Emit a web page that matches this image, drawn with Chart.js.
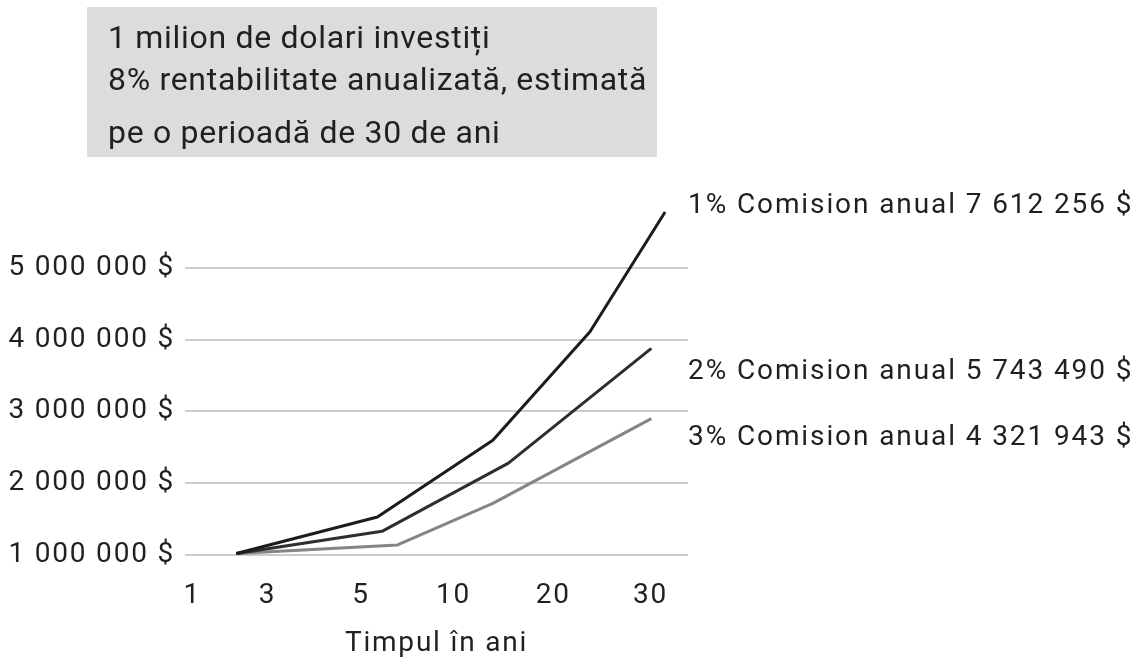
<!DOCTYPE html>
<html lang="ro">
<head>
<meta charset="UTF-8">
<title>Comision anual</title>
<script src="https://cdn.jsdelivr.net/npm/chart.js"></script>
<style>
  html, body { margin: 0; padding: 0; background: #fff; }
  #wrap { width: 1137px; height: 663px; }
</style>
</head>
<body>
<div id="wrap"><canvas id="chart" width="1137" height="663"></canvas></div>
<script>
// axa x e in "sloturi": eticheta 1 -> 0, eticheta 30 -> 5 (distantele nu sunt egale in original)
const xTickLabels = ['1', '3', '5', '10', '20', '30'];
const xTickPos = [0, 0.82, 1.84, 2.85, 3.94, 5.0];
const yTicks = [1000000, 2000000, 3000000, 4000000, 5000000];

const seriesNames = [
    '1% Comision anual 7 612 256 $',
    '2% Comision anual 5 743 490 $',
    '3% Comision anual 4 321 943 $'
];
const x1 = [0.48, 2.02, 3.28, 4.34, 5.16];
const y1 = [1020000, 1530000, 2600000, 4110000, 5780000];
const x2 = [0.48, 2.07, 3.45, 5.01];
const y2 = [1020000, 1330000, 2280000, 3880000];
const x3 = [0.48, 2.24, 3.28, 5.01];
const y3 = [1020000, 1140000, 1720000, 2900000];

const titleLines = [
    '1 milion de dolari investiți',
    '8% rentabilitate anualizată, estimată',
    'pe o perioadă de 30 de ani'
];

const textColor = '#231f20';
const lineColors = ['#1c1c1c', '#2e2e2e', '#858585'];

function toPoints(xs, ys) {
    return xs.map((x, i) => ({ x: x, y: ys[i] }));
}

function formatMoney(v) {
    return String(v).replace(/\B(?=(\d{3})+(?!\d))/g, ' ') + ' $';
}

// caseta gri de sus si etichetele din dreapta
const decor = {
    id: 'decor',
    beforeDraw(chart) {
        const ctx = chart.ctx;
        ctx.save();
        ctx.fillStyle = '#dcdcdc';
        ctx.fillRect(87, 7, 570, 150);
        ctx.fillStyle = textColor;
        ctx.font = '32px Roboto';
        ctx.letterSpacing = '0.7px';
        ctx.textBaseline = 'alphabetic';
        const baselines = [48, 90, 143];
        titleLines.forEach((t, i) => ctx.fillText(t, 108, baselines[i]));
        ctx.restore();
        ctx.letterSpacing = '1.8px';
    },
    afterDraw(chart) {
        const ctx = chart.ctx;
        ctx.save();
        ctx.font = '28px Roboto';
        ctx.letterSpacing = '1.9px';
        ctx.fillStyle = textColor;
        ctx.textBaseline = 'alphabetic';
        const baselines = [213, 379, 445];
        chart.data.datasets.forEach((ds, i) => ctx.fillText(ds.label, 688, baselines[i]));
        ctx.restore();
    }
};

const datasets = [toPoints(x1, y1), toPoints(x2, y2), toPoints(x3, y3)].map((pts, i) => ({
    label: seriesNames[i],
    data: pts,
    borderColor: lineColors[i],
    borderWidth: 3,
    pointRadius: 0,
    tension: 0,
    borderJoinStyle: 'round',
    fill: false
}));

new Chart(document.getElementById('chart'), {
    type: 'line',
    data: { datasets: datasets },
    options: {
        responsive: false,
        animation: false,
        devicePixelRatio: 1,
        layout: { padding: { top: 189, right: 449, left: 0, bottom: 0 } },
        plugins: {
            legend: { display: false },
            tooltip: { enabled: false }
        },
        scales: {
            x: {
                type: 'linear',
                min: -0.08,
                max: 5.41,
                grid: { display: false, drawTicks: false },
                border: { display: false },
                afterBuildTicks: (scale) => {
                    scale.ticks = xTickPos.map(v => ({ value: v }));
                },
                afterFit: (scale) => { scale.height = 108; },
                ticks: {
                    autoSkip: false,
                    maxRotation: 0,
                    padding: 24,
                    color: textColor,
                    font: { family: 'Roboto', size: 28 },
                    callback: (v, i) => xTickLabels[i]
                },
                title: {
                    display: true,
                    text: 'Timpul în ani',
                    color: textColor,
                    font: { family: 'Roboto', size: 28 },
                    padding: { top: 0, bottom: 2 }
                }
            },
            y: {
                min: 1000000,
                max: 6100000,
                grid: { color: '#cccccc', lineWidth: 2, drawTicks: false },
                border: { display: false },
                afterBuildTicks: (scale) => {
                    scale.ticks = yTicks.map(v => ({ value: v }));
                },
                afterFit: (scale) => { scale.width = 185; },
                ticks: {
                    padding: 10,
                    color: textColor,
                    font: { family: 'Roboto', size: 28 },
                    callback: (v) => formatMoney(v)
                }
            }
        }
    },
    plugins: [decor]
});
</script>
</body>
</html>
